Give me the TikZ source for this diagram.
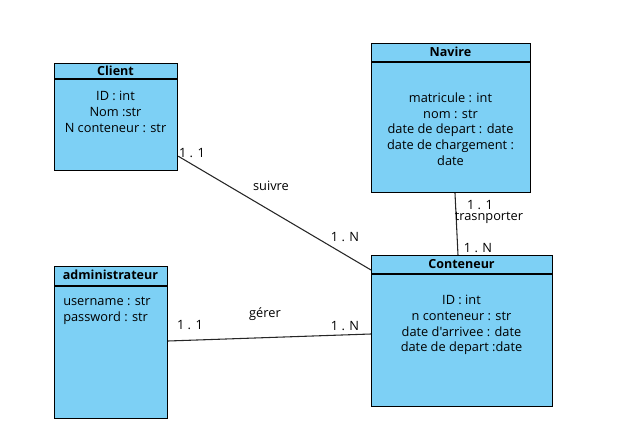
\documentclass[tikz,border=0pt]{standalone}
\usepackage{fontspec}
\newfontfamily\osf{Open Sans}
\usetikzlibrary{calc}
\definecolor{clsfill}{HTML}{7DD0F5}
\tikzset{
  cls/.style={draw=black, fill=clsfill, line width=0.9pt, rectangle, inner sep=0pt, anchor=north west},
  hdr/.style={font=\osf\fontsize{9.4}{11}\selectfont\bfseries, inner sep=0pt},
  attr/.style={font=\osf\fontsize{9.6}{11.8}\selectfont, align=center, inner sep=0pt},
  lbl/.style={font=\osf\fontsize{9.6}{11}\selectfont, inner sep=0pt},
  conn/.style={draw=black!85, line width=0.8pt}
}
\begin{document}
\begin{tikzpicture}[x=0.75pt,y=-0.75pt]
\useasboundingbox (0,0) rectangle (619,434);
% Client
\node[cls, minimum width=123*0.75pt, minimum height=107*0.75pt] (client) at (54,63) {};
\draw[line width=0.9pt] (54,79) -- (177,79);
\node[hdr] (clienth) at (115.5,71) {Client};
\node[attr] (clienta) at (115.5,112) {ID : int\\Nom :str\\N conteneur : str};
% Navire
\node[cls, minimum width=159*0.75pt, minimum height=149*0.75pt] (navire) at (371,43) {};
\draw[line width=0.9pt] (371,62) -- (530,62);
\node[hdr] (navireh) at (450.5,52) {Navire};
\node[attr] (navirea) at (450.5,129) {matricule : int\\nom : str\\date de depart : date\\date de chargement :\\date};
% administrateur
\node[cls, minimum width=113*0.75pt, minimum height=152*0.75pt] (admin) at (54,266) {};
\draw[line width=0.9pt] (54,286) -- (167,286);
\node[hdr] (adminh) at (110.5,275) {administrateur};
\node[attr, align=left, anchor=west] (admina) at (63,310.5) {username : str\\password : str};
% Conteneur
\node[cls, minimum width=181*0.75pt, minimum height=151*0.75pt] (cont) at (371,255) {};
\draw[line width=0.9pt] (371,274) -- (552,274);
\node[hdr] (conth) at (461.5,264) {Conteneur};
\node[attr] (conta) at (461.5,325) {ID : int\\n conteneur : str\\date d'arrivee : date\\date de depart :date};
% connectors
\draw[conn] ($(client.south east)+(0,-15)$) -- ($(cont.north west)+(0,15)$);
\draw[conn] ($(admin.north east)+(0,75)$) -- ($(cont.north west)+(0,79)$);
\draw[conn] ($(navire.south west)+(84,0)$) -- ($(cont.north west)+(87,0)$);
% labels
\node[lbl] (m1) at (192,153) {1 . 1};
\node[lbl] (r1) at (271,186) {suivre};
\node[lbl] (m2) at (345,237) {1 . N};
\node[lbl] (m3) at (190,325) {1 . 1};
\node[lbl] (r2) at (265,314) {gérer};
\node[lbl] (m4) at (345,326) {1 . N};
\node[lbl] (m5) at (480,205) {1 . 1};
\node[lbl] (r3) at (489,218) {trasnporter};
\node[lbl] (m6) at (478,248) {1 . N};
\end{tikzpicture}
\end{document}
